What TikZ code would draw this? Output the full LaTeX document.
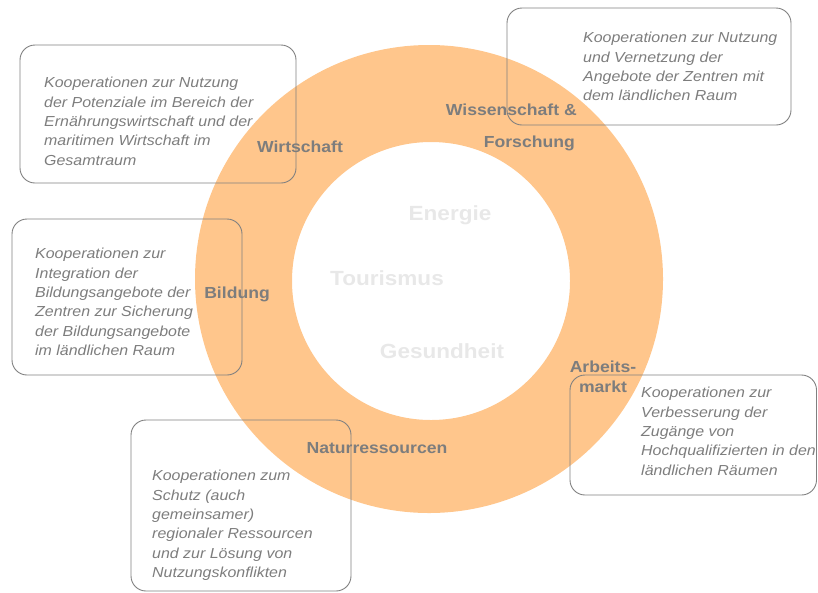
\documentclass[tikz,border=0pt]{standalone}
\usepackage{fontspec}
\newfontfamily\labelfont[FakeStretch=1.1]{Liberation Sans}
\definecolor{ringorange}{RGB}{255,198,140}
\definecolor{labelgray}{RGB}{125,125,125}
\definecolor{palegray}{RGB}{232,232,232}
\definecolor{framegray}{RGB}{128,128,128}
\tikzset{
  field/.style={font=\labelfont\bfseries\fontsize{16}{20}\selectfont, text=labelgray, inner sep=0pt, anchor=base},
  topic/.style={font=\labelfont\bfseries\fontsize{20.5}{24}\selectfont, text=palegray, inner sep=0pt, anchor=base},
  coop/.style={font=\labelfont\itshape\fontsize{14.5}{19.4}\selectfont, text=labelgray, align=left, inner sep=0pt, anchor=north west},
  frame/.style={draw=framegray, line width=0.9pt, rounded corners=15pt}
}
\begin{document}
\begin{tikzpicture}[x=1pt,y=-1pt]
    \useasboundingbox (0,0) rectangle (818,592);
    \fill[ringorange, even odd rule] (429,279) circle (234) (431,281) circle (139);%Ring
    % Kaesten
    \draw[frame] (20,45) rectangle (296,183);
    \draw[frame] (507,8) rectangle (791,125);
    \draw[frame] (12,219) rectangle (242,375);
    \draw[frame] (570,375) rectangle (816.5,495);
    \draw[frame] (131,420) rectangle (351,591);
    % Texte in den Kaesten
    \node[coop] (wirtschafttext) at (44,77) {Kooperationen zur Nutzung\\der Potenziale im Bereich der\\Ernährungswirtschaft und der\\maritimen Wirtschaft im\\Gesamtraum};
    \node[coop] (wissenschafttext) at (583,32) {Kooperationen zur Nutzung\\und Vernetzung der\\Angebote der Zentren mit\\dem ländlichen Raum};
    \node[coop] (bildungtext) at (35,248) {Kooperationen zur\\Integration der\\Bildungsangebote der\\Zentren zur Sicherung\\der Bildungsangebote\\im ländlichen Raum};
    \node[coop] (arbeitsmarkttext) at (641,387) {Kooperationen zur\\Verbesserung der\\Zugänge von\\Hochqualifizierten in den\\ländlichen Räumen};
    \node[coop] (naturtext) at (152,470) {Kooperationen zum\\Schutz (auch\\gemeinsamer)\\regionaler Ressourcen\\und zur Lösung von\\Nutzungskonflikten};
    % Felder auf dem Ring
    \node[field] (wirtschaft) at (300,152) {Wirtschaft};
    \node[field, anchor=base east] (wissenschaft) at (577,115) {Wissenschaft \&};
    \node[field, anchor=base east] (forschung) at (575,147) {Forschung};
    \node[field] (bildung) at (237,298) {Bildung};
    \node[field] (arbeits) at (603,372) {Arbeits-};
    \node[field] (markt) at (603,392) {markt};
    \node[field] (natur) at (377,453) {Naturressourcen};
    % Themen in der Mitte
    \node[topic] (energie) at (450,220) {Energie};
    \node[topic] (tourismus) at (387,285) {Tourismus};
    \node[topic] (gesundheit) at (442,358) {Gesundheit};
\end{tikzpicture}
\end{document}
